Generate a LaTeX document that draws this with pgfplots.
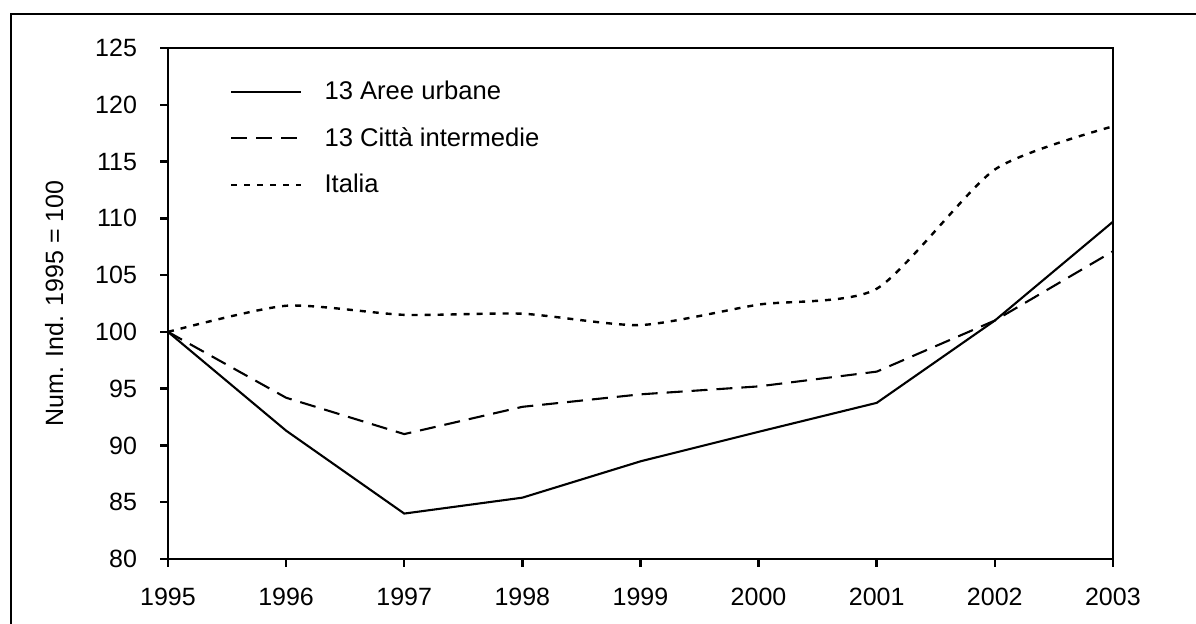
\documentclass[border=0pt]{standalone}
\usepackage{pgfplots}
\pgfplotsset{compat=1.18}
\usepackage{fontspec}
\setmainfont{Liberation Sans}
\begin{document}
\begin{tikzpicture}[x=0.5pt,y=0.5pt]
\useasboundingbox (-168,-65) rectangle (1028,559);
\draw[line width=1pt] (-157,-80) -- (-157,545) -- (1040,545);
\begin{axis}[
  at={(0,0)}, anchor=south west,
  scale only axis,
  width=472.5pt, height=255.5pt,
  xmin=1995, xmax=2003, ymin=80, ymax=125,
  xtick={1995,...,2003}, ytick={80,85,...,125},
  axis line style={line width=1.2pt},
  tick style={line width=1.2pt, black},
  major tick length=4pt,
  tick align=outside,
  xtick pos=bottom, ytick pos=left,
  x tick label style={/pgf/number format/1000 sep={}},
  /pgf/number format/assume math mode=true,
  tick label style={font=\fontsize{12.5}{14}\selectfont},
  xticklabel style={yshift=-7pt},
  yticklabel style={xshift=-8pt},
  ylabel={Num. Ind. 1995 = 100},
  ylabel style={font=\fontsize{12.5}{14}\selectfont, yshift=9pt},
  legend style={draw=none, fill=none, at={(0.059,0.952)}, anchor=north west,
    font=\fontsize{12.8}{14}\selectfont, row sep=8.5pt,
    /tikz/every odd column/.append style={column sep=9pt}},
  legend cell align=left,
  legend image code/.code={\draw[#1] (0pt,0pt) -- (35pt,0pt);},
  every axis plot/.append style={line width=1.05pt, black},
]
\addplot[solid] coordinates {(1995,100) (1996,91.3) (1997,84.0) (1998,85.4) (1999,88.6) (2000,91.2) (2001,93.75) (2002,101.0) (2003,109.7)};
\addlegendentry{13 Aree urbane}
\addplot[dash pattern=on 8pt off 4.5pt] coordinates {(1995,100) (1996,94.2) (1997,91.0) (1998,93.4) (1999,94.5) (2000,95.2) (2001,96.5) (2002,101.0) (2003,107.1)};
\addlegendentry{13 Città intermedie}
\addplot[dash pattern=on 3pt off 3.5pt, line width=1.2pt, smooth, tension=0.4] coordinates {(1995,100) (1996,102.3) (1997,101.5) (1998,101.6) (1999,100.6) (2000,102.4) (2001,103.8) (2002,114.3) (2003,118.1)};
\addlegendentry{Italia}
\end{axis}
\end{tikzpicture}
\end{document}
